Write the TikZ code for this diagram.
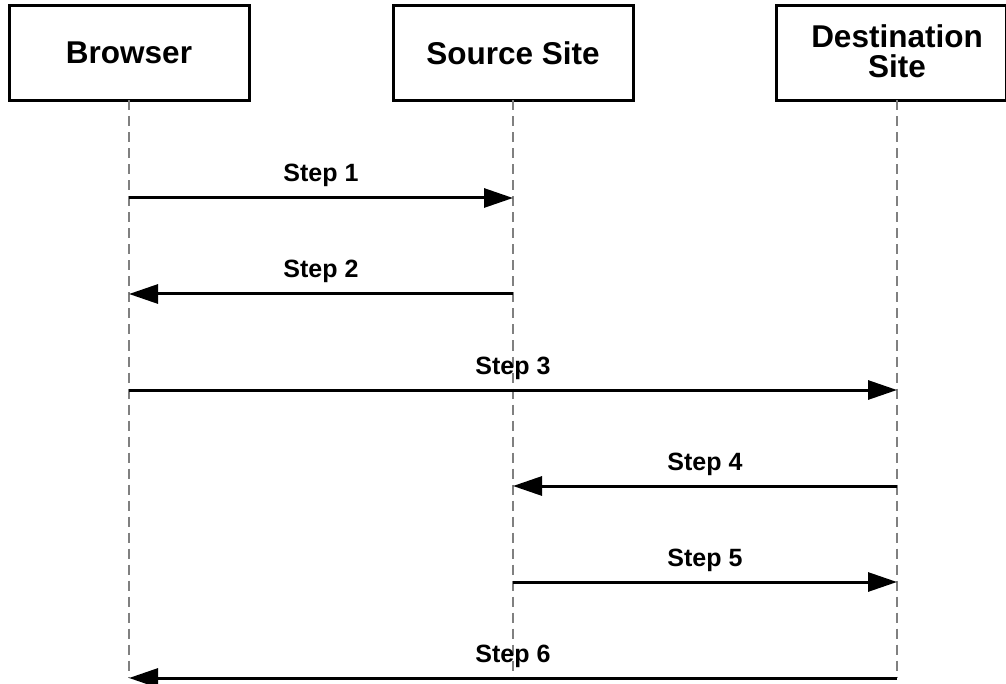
\documentclass[tikz,border=0pt]{standalone}
\usepackage{fontspec}
\setmainfont{Liberation Sans}
\usetikzlibrary{arrows.meta}

\begin{document}
\begin{tikzpicture}[x=1pt,y=-1pt,inner sep=0pt,outer sep=0pt,
actor/.style={draw,rectangle,line width=3pt,minimum width=240pt,minimum height=95pt,align=center,font=\fontsize{31.5}{30}\selectfont\bfseries},
lifeline/.style={draw=gray,line width=2pt,dash pattern=on 10pt off 6pt},
msg/.style={line width=3pt,-{Triangle[length=29pt,width=19pt]}},
steplabel/.style={anchor=base,yshift=16pt,font=\fontsize{25}{25}\selectfont\bfseries}]

\useasboundingbox (0,0) rectangle (1006,684);

\draw (129,53) node[actor] (browser) {Browser};
\draw (513,53) node[actor] (source) {Source Site};
\draw (891.5,53) node[actor,minimum width=230pt] (dest) {};
\draw (897,51) node[align=center,font=\fontsize{31.5}{30}\selectfont\bfseries] (desttext) {Destination\\Site};

% lifelines
\draw[lifeline] (browser.south) -- ++(0,577) coordinate (browserend);
\draw[lifeline] (source.south) -- ++(0,577) coordinate (sourceend);
\draw[lifeline] (desttext |- dest.south) -- ++(0,577) coordinate (destend);

% messages
\coordinate (row1) at (0,198);
\coordinate (row2) at (0,294);
\coordinate (row3) at (0,390);
\coordinate (row4) at (0,486);
\coordinate (row5) at (0,582);
\coordinate (row6) at (0,678);

\draw[msg] (browser |- row1) -- node[steplabel] {Step 1} (source |- row1);
\draw[msg] (source |- row2) -- node[steplabel] {Step 2} (browser |- row2);
\draw[msg] (browser |- row3) -- node[steplabel] {Step 3} (desttext |- row3);
\draw[msg] (desttext |- row4) -- node[steplabel] {Step 4} (source |- row4);
\draw[msg] (source |- row5) -- node[steplabel] {Step 5} (desttext |- row5);
\draw[msg] (desttext |- row6) -- node[steplabel] {Step 6} (browser |- row6);
\end{tikzpicture}
\end{document}
